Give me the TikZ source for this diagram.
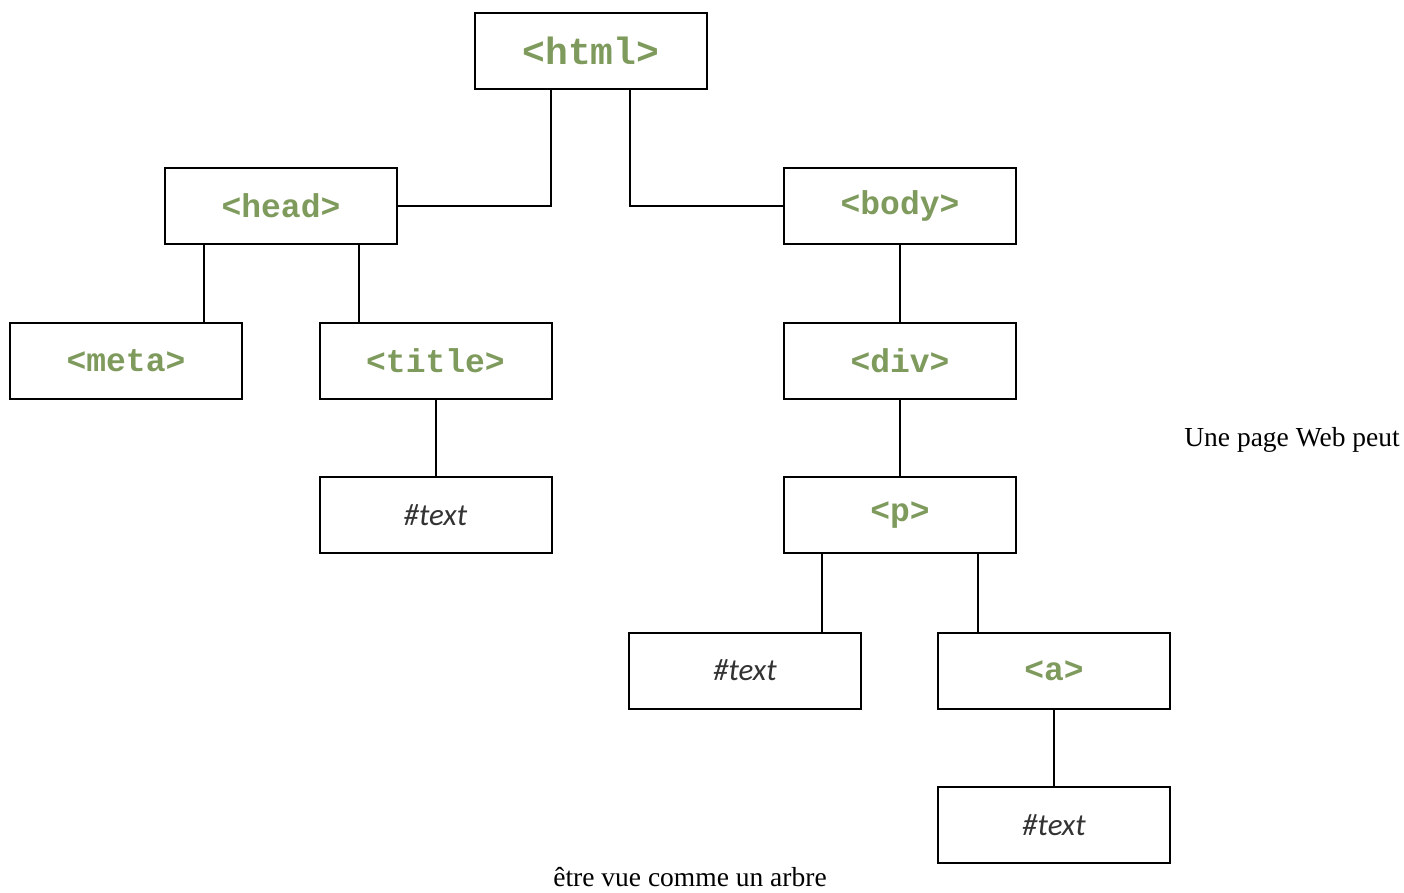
\documentclass[tikz,border=0pt]{standalone}
\usepackage{fontspec}
\setmainfont{Liberation Serif}
\newfontfamily\tagfont{Liberation Mono}
\newfontfamily\txtfont{Carlito}
\definecolor{taggreen}{HTML}{7E9A5C}
\definecolor{txtgray}{HTML}{333333}
\begin{document}
\begin{tikzpicture}[x=1pt,y=-1pt,
  box/.style={draw=black,line width=2pt,minimum width=232pt,minimum height=76pt,inner sep=0pt,anchor=center},
  tag/.style={box,font=\tagfont\bfseries\fontsize{33}{36}\selectfont,text=taggreen},
  txt/.style={box,font=\txtfont\itshape\fontsize{31}{34}\selectfont,text=txtgray},
  link/.style={line width=2pt,draw=black},
  captext/.style={font=\fontsize{27.5}{30}\selectfont,inner sep=0pt}]
\useasboundingbox (0,0) rectangle (1404,892);
\node[tag,font=\tagfont\bfseries\fontsize{38}{40}\selectfont] (html) at (591,50.5) {<html>};
\node[tag] (head) at (281,205.5) {<head>};
\node[tag] (body) at (900,205.5) {<body>};
\node[tag] (meta) at (126,361) {<meta>};
\node[tag] (title) at (435.5,361) {<title>};
\node[tag] (div) at (900,361) {<div>};
\node[txt] (t1) at (435.5,515) {\#text};
\node[tag] (p) at (900,515) {<p>};
\node[txt] (t2) at (745,670.5) {\#text};
\node[tag] (a) at (1054,670.5) {<a>};
\node[txt] (t3) at (1054,825) {\#text};
\node[captext] (c1) at (1292,440) {Une page Web peut};
\node[captext] (c2) at (690,877) {être vue comme un arbre};
\coordinate (hl) at ([xshift=-40]html.south);
\coordinate (hr) at ([xshift=39]html.south);
\coordinate (hm) at ([xshift=-77]head.south);
\coordinate (ht) at ([xshift=78]head.south);
\coordinate (pl) at ([xshift=-78]p.south);
\coordinate (pr) at ([xshift=78]p.south);
\draw[link] (hl) |- (head.east);
\draw[link] (hr) |- (body.west);
\draw[link] (hm) -- (hm |- meta.north);
\draw[link] (ht) -- (ht |- title.north);
\draw[link] (title) -- (t1);
\draw[link] (body) -- (div);
\draw[link] (div) -- (p);
\draw[link] (pl) -- (pl |- t2.north);
\draw[link] (pr) -- (pr |- a.north);
\draw[link] (a) -- (t3);
\end{tikzpicture}
\end{document}
